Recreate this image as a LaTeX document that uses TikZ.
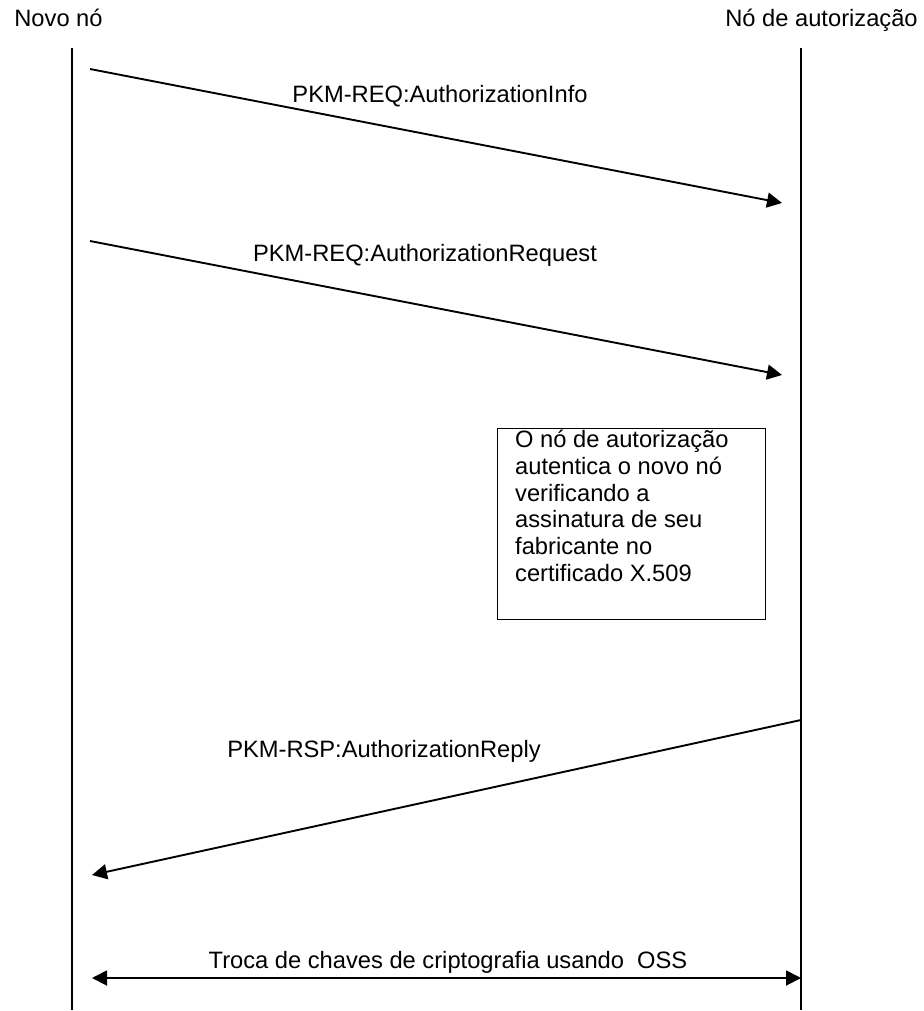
\documentclass[tikz,border=0pt]{standalone}
\usepackage{fontspec}
\setmainfont{Liberation Sans}
\usepackage{tikz}
\usetikzlibrary{positioning,arrows.meta}
\definecolor{lineclr}{rgb}{0, 0, 0}
\tikzset{ %
  ,>={Triangle[length=15pt,width=15pt]}
  ,every node/.style={font=\fontsize{23.7}{26.7}\selectfont, inner sep=0}
  ,lifeline/.style={draw=lineclr, line width=1.9pt}
  ,msg/.style={draw=lineclr, line width=1.9pt}
  ,msglbl/.style={anchor=base}
  ,notebox/.style={draw=lineclr, line width=1.3pt, anchor=north west, minimum width=268pt, minimum height=191pt}
  ,notetxt/.style={anchor=north west, align=left}
}
\begin{document}
\begin{tikzpicture}[x=1pt,y=-1pt]
  \useasboundingbox (0,0) rectangle (923,1011);
  \node[msglbl] (novo) at (58.5,27) {Novo nó};
  \node[msglbl] (autor) at (821.5,27) {Nó de autorização};
  \coordinate (novotop) at (72,48);
  \coordinate (novobot) at (72,1010);
  \coordinate (autortop) at (801,48);
  \coordinate (autorbot) at (801,1010);
  \draw[lifeline] (novotop) -- (novobot);
  \draw[lifeline] (autortop) -- (autorbot);

  \coordinate (infoA) at (90,69);
  \coordinate (infoB) at (782,203);
  \draw[msg,->] (infoA) -- (infoB);
  \node[msglbl] (info) at (440,103) {PKM-REQ:AuthorizationInfo};

  \coordinate (reqA) at (90,241);
  \coordinate (reqB) at (782,375);
  \draw[msg,->] (reqA) -- (reqB);
  \node[msglbl] (req) at (425,261) {PKM-REQ:AuthorizationRequest};

  \node[notebox] (note) at (497,428) {};
  \node[notetxt] (notebody) at (515,430) {O nó de autorização\\autentica o novo nó\\verificando a\\assinatura de seu\\fabricante no\\certificado X.509};

  \coordinate (replyA) at (801,720);
  \coordinate (replyB) at (92,875);
  \draw[msg,->] (replyA) -- (replyB);
  \node[msglbl] (reply) at (384,757) {PKM-RSP:AuthorizationReply};

  \coordinate (keysA) at (92,978);
  \coordinate (keysB) at (801,978);
  \draw[msg,<->] (keysA) -- (keysB);
  \node[msglbl] (keys) at (448,968) {Troca de chaves de criptografia usando\ \ OSS};
\end{tikzpicture}
\end{document}
